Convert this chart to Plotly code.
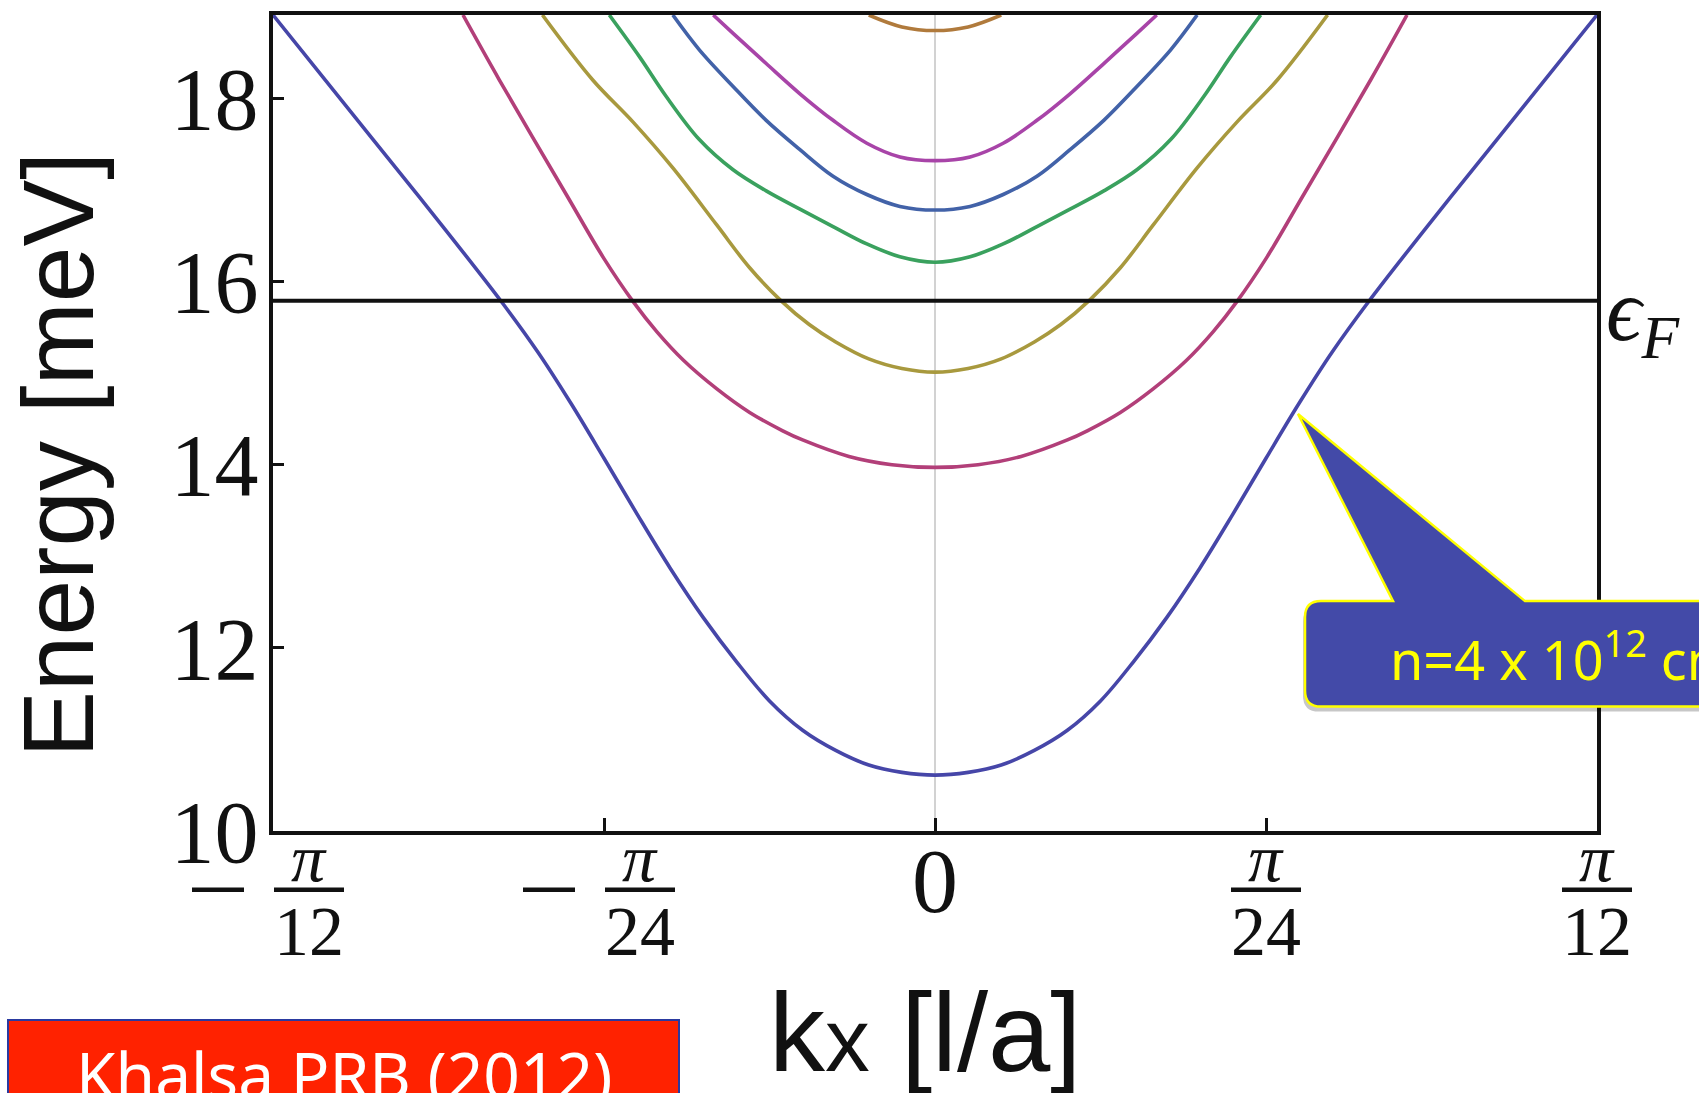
import numpy as np
import plotly.graph_objects as go

# ---------------- data (k in units of pi/12, energies in meV) ----------------
K_UNIT = np.pi / 12

band1_k = [0, 0.05, 0.1, 0.15, 0.2, 0.25, 0.3, 0.35, 0.4, 0.45, 0.5, 0.55, 0.6, 0.656, 0.75, 0.85, 1.0]
band1_e = [10.61, 10.64, 10.72, 10.88, 11.1, 11.42, 11.85, 12.33, 12.87, 13.46, 14.07, 14.67, 15.23, 15.79, 16.66, 17.56, 18.91]

band2_k = [0, 0.065, 0.13, 0.2, 0.23, 0.28, 0.33, 0.38, 0.42, 0.456, 0.5, 0.557, 0.658, 0.713]
band2_e = [13.97, 14.0, 14.09, 14.27, 14.37, 14.57, 14.83, 15.14, 15.45, 15.78, 16.25, 16.95, 18.2, 18.91]

band3_k = [0, 0.05, 0.1, 0.15, 0.19, 0.234, 0.28, 0.33, 0.396, 0.456, 0.517, 0.593]
band3_e = [15.01, 15.05, 15.155, 15.34, 15.53, 15.8, 16.15, 16.62, 17.24, 17.74, 18.2, 18.91]

band4_k = [0, 0.053, 0.103, 0.154, 0.204, 0.255, 0.305, 0.356, 0.406, 0.446, 0.492]
band4_e = [16.21, 16.27, 16.41, 16.6, 16.79, 16.99, 17.22, 17.55, 18.02, 18.45, 18.91]

band5_k = [0, 0.053, 0.103, 0.154, 0.204, 0.255, 0.305, 0.356, 0.396]
band5_e = [16.78, 16.82, 16.95, 17.15, 17.44, 17.76, 18.13, 18.53, 18.91]

band6_k = [0, 0.053, 0.103, 0.154, 0.204, 0.255, 0.305, 0.335]
band6_e = [17.32, 17.36, 17.51, 17.76, 18.05, 18.38, 18.71, 18.91]

band7_k = [0, 0.05, 0.1]
band7_e = [18.74, 18.78, 18.91]

E_FERMI = 15.79
Y_RANGE = [10, 18.91]
Y_TICKS = [10, 12, 14, 16, 18]
X_TICK_FRACS = [-1, -0.5, 0, 0.5, 1]
X_TICK_NUM = ["π", "π", "", "π", "π"]
X_TICK_DEN = ["12", "24", "0", "24", "12"]
X_TICK_NEG = [True, True, False, False, False]

BANDS = [
    (band1_k, band1_e, "#4646a8"),
    (band2_k, band2_e, "#b23f79"),
    (band3_k, band3_e, "#a8993e"),
    (band4_k, band4_e, "#3aa15e"),
    (band5_k, band5_e, "#4262a8"),
    (band6_k, band6_e, "#a844a8"),
    (band7_k, band7_e, "#b07a3c"),
]

# ---------------- layout geometry (pixels) ----------------
W, H = 1699, 1093
PL, PT, PW, PH = 273, 11, 1324, 820


def xp(x):
    return (x - PL) / PW


def yp(y):
    return 1 - (y - PT) / PH


def tick_paper(f, dx_px=0):
    # paper x of a tick given as a fraction of pi/12, plus a pixel offset
    return (f + 1) / 2 + dx_px / PW


def mirror(k, e):
    kk = [-v for v in reversed(k)] + list(k[1:])
    ee = list(reversed(e)) + list(e[1:])
    return np.array(kk) * K_UNIT, ee


fig = go.Figure()

for k, e, col in BANDS:
    x, y = mirror(k, e)
    fig.add_trace(go.Scatter(x=x, y=y, mode="lines",
                             line=dict(color=col, width=3.6, shape="spline", smoothing=1.0),
                             hoverinfo="skip", showlegend=False))

fig.add_trace(go.Scatter(x=[-K_UNIT, K_UNIT], y=[E_FERMI, E_FERMI], mode="lines",
                         line=dict(color="#111111", width=4), showlegend=False, hoverinfo="skip"))

serif = "Liberation Serif, Times New Roman, serif"
sans = "Liberation Sans, Arial, sans-serif"
comic = "Noto Sans, sans-serif"

fig.update_layout(
    width=W, height=H,
    margin=dict(l=PL, r=W - PL - PW, t=PT, b=H - PT - PH),
    paper_bgcolor="white", plot_bgcolor="white",
    xaxis=dict(range=[-K_UNIT, K_UNIT], showgrid=False,
               tickvals=[f * K_UNIT for f in X_TICK_FRACS[1:-1]],
               ticks="inside", ticklen=13, tickwidth=3, tickcolor="#111111",
               showticklabels=False,
               zeroline=True, zerolinecolor="#d2d2d2", zerolinewidth=1.5,
               showline=True, linecolor="#111111", linewidth=4, mirror=True),
    yaxis=dict(range=Y_RANGE, showgrid=False, tickvals=Y_TICKS,
               ticks="inside", ticklen=11, tickwidth=3, tickcolor="#111111",
               tickfont=dict(family=serif, size=88, color="#111111"),
               ticklabelstandoff=-7,
               zeroline=False,
               showline=True, linecolor="#111111", linewidth=4, mirror=True),
)

ann = []
shapes = []

# x tick labels as stacked fractions
for f, num, den, neg in zip(X_TICK_FRACS, X_TICK_NUM, X_TICK_DEN, X_TICK_NEG):
    if num == "":
        ann.append(dict(x=tick_paper(f), y=yp(881), xref="paper", yref="paper", text=den,
                        showarrow=False, xanchor="center", yanchor="middle",
                        font=dict(family=serif, size=92, color="#111111")))
        continue
    shift = 36 if neg else 0
    ann.append(dict(x=tick_paper(f, shift), y=yp(858), xref="paper", yref="paper",
                    text="<i>" + num + "</i>", showarrow=False, xanchor="center", yanchor="middle",
                    font=dict(family=serif, size=68, color="#111111")))
    ann.append(dict(x=tick_paper(f, shift), y=yp(932), xref="paper", yref="paper", text=den,
                    showarrow=False, xanchor="center", yanchor="middle",
                    font=dict(family=serif, size=70, color="#111111")))
    shapes.append(dict(type="line", xref="paper", yref="paper",
                       x0=tick_paper(f, shift - 35), x1=tick_paper(f, shift + 35),
                       y0=yp(890), y1=yp(890), line=dict(color="#111111", width=4.5)))
    if neg:
        shapes.append(dict(type="line", xref="paper", yref="paper",
                           x0=tick_paper(f, -81), x1=tick_paper(f, -29),
                           y0=yp(890), y1=yp(890), line=dict(color="#111111", width=4.5)))

# axis titles
ann.append(dict(x=xp(58), y=yp(453), xref="paper", yref="paper", text="Energy [meV]",
                textangle=-90, showarrow=False, xanchor="center", yanchor="middle",
                font=dict(family=sans, size=100, color="#111111")))
ann.append(dict(x=xp(925), y=yp(1033), xref="paper", yref="paper",
                text="k<span style='font-size:80%'>x</span> [l/a]", showarrow=False,
                xanchor="center", yanchor="middle",
                font=dict(family=sans, size=112, color="#111111")))

# Fermi level label
ann.append(dict(x=xp(1604), y=yp(314), xref="paper", yref="paper",
                text="<i>ϵ<sub>F</sub></i>", showarrow=False, xanchor="left", yanchor="middle",
                font=dict(family="Liberation Serif, DejaVu Serif, serif", size=88, color="#111111")))

# callout (speech bubble)
r = 16
bx0, by0, by1, bx1 = 1305, 600, 706, 1780
tip = (1298, 412)
b_l, b_r = 1393, 1525


def rounded_box(dx=0, dy=0, with_tail=True):
    pts = [("M", bx0 + r, by0)]
    if with_tail:
        pts += [("L", b_l, by0), ("L", tip[0], tip[1]), ("L", b_r, by0)]
    pts += [("L", bx1, by0), ("L", bx1, by1), ("L", bx0 + r, by1)]
    s = ""
    for c, x, y in pts:
        s += f"{c}{xp(x + dx):.5f},{yp(y + dy):.5f} "
    s += f"Q{xp(bx0 + dx):.5f},{yp(by1 + dy):.5f} {xp(bx0 + dx):.5f},{yp(by1 - r + dy):.5f} "
    s += f"L{xp(bx0 + dx):.5f},{yp(by0 + r + dy):.5f} "
    s += f"Q{xp(bx0 + dx):.5f},{yp(by0 + dy):.5f} {xp(bx0 + r + dx):.5f},{yp(by0 + dy):.5f} Z"
    return s


shapes.append(dict(type="path", xref="paper", yref="paper", path=rounded_box(-2, 5, False),
                   fillcolor="rgba(0,0,0,0.22)", line=dict(width=0), layer="above"))
shapes.append(dict(type="path", xref="paper", yref="paper", path=rounded_box(),
                   fillcolor="#434aa8", line=dict(color="#ffff00", width=2.5), layer="above"))
ann.append(dict(x=xp(1388), y=yp(656), xref="paper", yref="paper",
                text="n=4 x 10<sup>12</sup> cm<sup>-2</sup>", showarrow=False,
                xanchor="left", yanchor="middle",
                font=dict(family=comic, size=54, color="#ffff00")))

# reference box
shapes.append(dict(type="rect", xref="paper", yref="paper",
                   x0=xp(8), x1=xp(679), y0=yp(1021), y1=yp(1130),
                   fillcolor="#ff2200", line=dict(color="#2a3aa0", width=2), layer="above"))
ann.append(dict(x=xp(344), y=yp(1076), xref="paper", yref="paper",
                text="Khalsa PRB (2012)", showarrow=False, xanchor="center", yanchor="middle",
                font=dict(family=comic, size=64, color="white")))

fig.update_layout(annotations=ann, shapes=shapes)

fig.write_html("out.html")
